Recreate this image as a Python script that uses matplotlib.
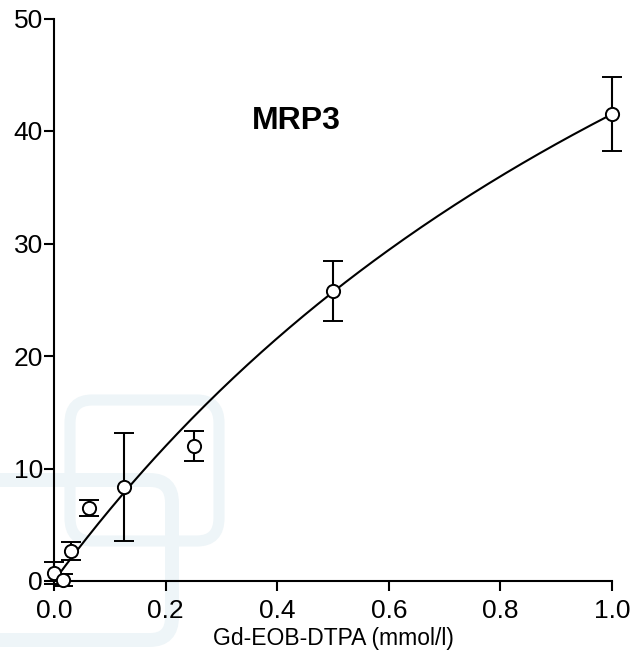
import numpy as np
import matplotlib.pyplot as plt
from matplotlib.patches import FancyBboxPatch

plt.rcParams['font.family'] = ['Liberation Sans', 'DejaVu Sans']

# data
conc = [0.0, 0.015625, 0.03125, 0.0625, 0.125, 0.25, 0.5, 1.0]
uptake = [0.7, 0.1, 2.7, 6.5, 8.4, 12.0, 25.8, 41.5]
sd = [1.0, 0.5, 0.8, 0.7, 4.8, 1.3, 2.65, 3.3]

# Michaelis-Menten fit
vmax = 107.9
km = 1.6

fig = plt.figure(figsize=(6.32, 6.56), dpi=100)

# faint watermark in the background (figure pixels)
def wm(x0, y0, x1, y1, lw):
    p = FancyBboxPatch((x0 / 632, 1 - y1 / 656), (x1 - x0) / 632, (y1 - y0) / 656,
                       boxstyle='round,pad=0,rounding_size=0.035',
                       transform=fig.transFigure, fill=False,
                       edgecolor='#eef5f8', linewidth=lw, zorder=-5)
    fig.patches.append(p)

wm(70, 400, 219, 541, 8)
wm(-60, 480, 172, 640, 10)

ax = fig.add_axes([54 / 632, 1 - 581 / 656, 558 / 632, 562.5 / 656])
ax.set_facecolor('none')

xs = np.linspace(0, 1.0, 200)
ax.plot(xs, vmax * xs / (km + xs), color='black', lw=1.5, zorder=2)

ax.errorbar(conc, uptake, yerr=sd, fmt='o', mfc='white', mec='black', ms=9.5,
            mew=1.4, ecolor='black', elinewidth=1.5, capsize=7, capthick=1.5,
            zorder=3, clip_on=False)

ax.text(0.434, 40.9, 'MRP3', fontsize=23, fontweight='bold', ha='center', va='center')

ax.set_xlim(0, 1.0)
ax.set_ylim(0, 50)
ax.set_xticks([0, 0.2, 0.4, 0.6, 0.8, 1.0])
ax.set_xticklabels(['0.0', '0.2', '0.4', '0.6', '0.8', '1.0'])
ax.set_yticks([0, 10, 20, 30, 40, 50])
ax.spines['top'].set_visible(False)
ax.spines['right'].set_visible(False)
ax.spines['left'].set_linewidth(1.5)
ax.spines['bottom'].set_linewidth(1.5)
ax.tick_params(labelsize=19, width=1.5, length=7)
ax.tick_params(axis='x', pad=6)
ax.tick_params(axis='y', pad=1)
ax.set_xlabel('Gd-EOB-DTPA (mmol/l)', fontsize=16.5, labelpad=3)

fig.savefig('out.png', dpi=100)
